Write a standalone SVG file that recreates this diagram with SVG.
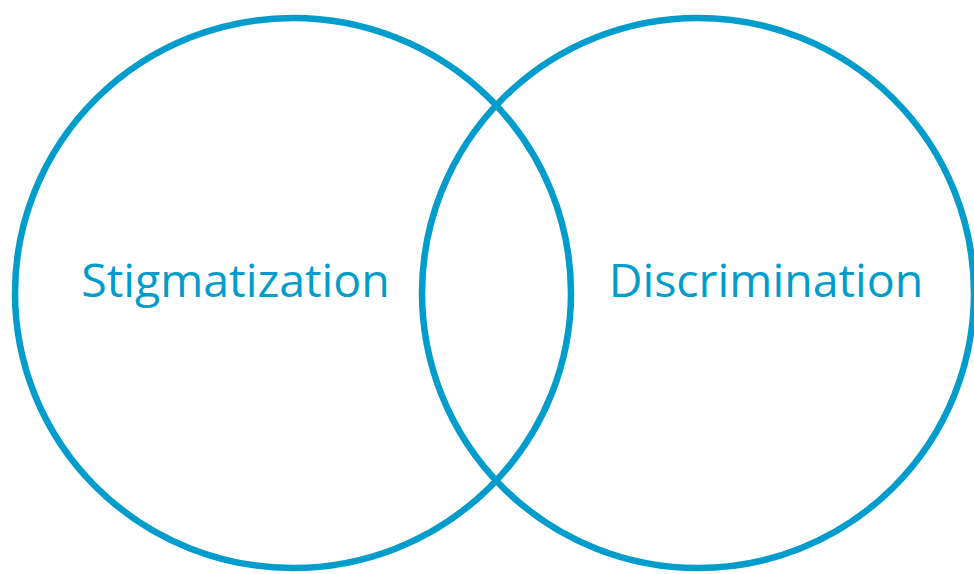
<svg xmlns="http://www.w3.org/2000/svg" width="974" height="574" viewBox="0 0 974 574">
<style>
.c{fill:none;stroke:#009ccc;stroke-width:6.5}
.t{font-family:"Open Sans","Liberation Sans",sans-serif;font-size:46.5px;fill:#009ccc;text-anchor:middle}
</style>
<rect width="974" height="574" fill="#fff"/>
<g id="stigmatization">
<ellipse class="c" cx="293" cy="293" rx="278" ry="275"/>
<text class="t" x="235.5" y="297">Stigmatization</text>
</g>
<g id="discrimination">
<ellipse class="c" cx="698" cy="293" rx="276" ry="275"/>
<text class="t" x="766" y="297">Discrimination</text>
</g>
<g id="connectors"></g>
</svg>
